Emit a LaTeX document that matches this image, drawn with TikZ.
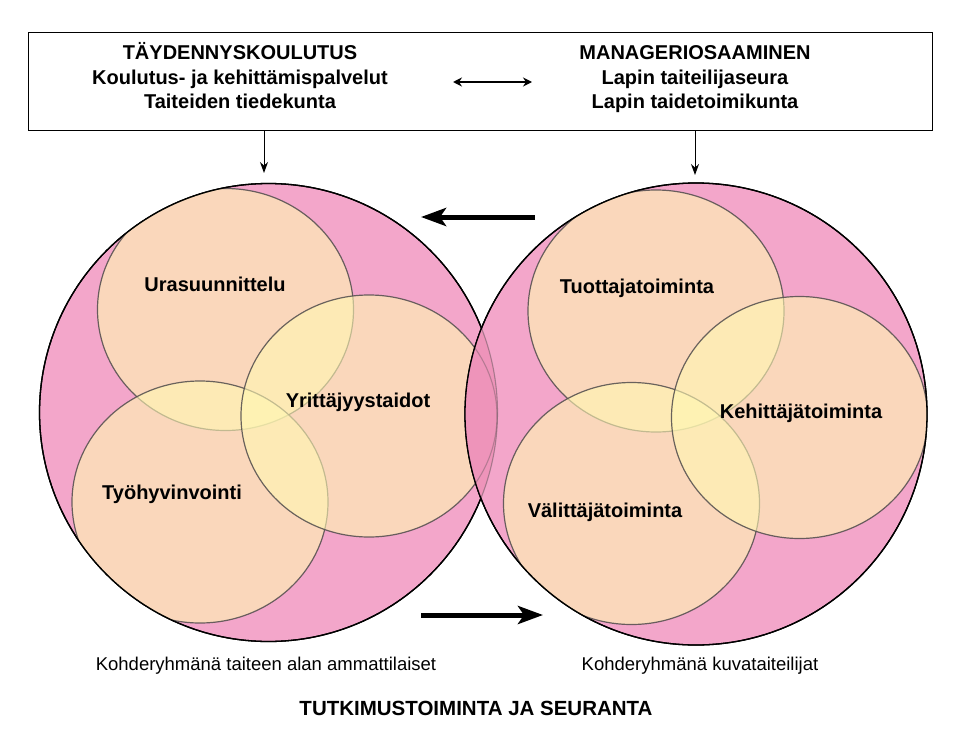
\documentclass[tikz,border=0pt]{standalone}
\usepackage{fontspec}
\setmainfont{Liberation Sans}
\usetikzlibrary{arrows.meta}
\definecolor{pinkc}{RGB}{243,166,202}
\definecolor{lensc}{RGB}{238,148,186}
\definecolor{yelc}{RGB}{255,248,178}
\definecolor{edgec}{RGB}{80,76,76}
\begin{document}
\begin{tikzpicture}[x=1pt,y=-1pt,
  big/.style={fill=pinkc,draw=black,line width=1.3pt},
  bigedge/.style={draw=black,line width=1.3pt},
  innerc/.style={fill=yelc,fill opacity=0.6,draw=edgec,draw opacity=0.85,line width=1.2pt},
  lab/.style={font=\bfseries\fontsize{20}{24}\selectfont,anchor=base,inner sep=0pt},
  boxtxt/.style={font=\bfseries\fontsize{20}{24}\selectfont,anchor=base,inner sep=0pt},
  foot/.style={font=\fontsize{18.5}{22}\selectfont,anchor=base,inner sep=0pt},
  titletxt/.style={font=\bfseries\fontsize{20.5}{24}\selectfont,anchor=base,inner sep=0pt},
  thinarr/.style={-{Stealth[length=11pt,width=8pt]},line width=1pt},
  dblarr/.style={{Stealth[length=9pt,width=9pt]}-{Stealth[length=9pt,width=9pt]},line width=1.6pt},
  thickarr/.style={-{Stealth[length=25pt,width=18pt,inset=6pt]},line width=5pt}
]
\useasboundingbox (0,0) rectangle (953,744);
\fill[white] (0,0) rectangle (953,744);

% top box
\node[draw,line width=1.4pt,minimum width=904pt,minimum height=98pt,inner sep=0pt,anchor=north west] (box) at (28,32) {};
\node[boxtxt] (l1) at (240,59.5) {TÄYDENNYSKOULUTUS};
\node[boxtxt] (l2) at (240,84.5) {Koulutus- ja kehittämispalvelut};
\node[boxtxt] (l3) at (240,108.5) {Taiteiden tiedekunta};
\node[boxtxt] (r1) at (695,59.5) {MANAGERIOSAAMINEN};
\node[boxtxt] (r2) at (695,84.5) {Lapin taiteilijaseura};
\node[boxtxt] (r3) at (695,108.5) {Lapin taidetoimikunta};
\coordinate (da1) at (453,82);
\coordinate (da2) at (532,82);
\draw[dblarr] (da1) -- (da2);

% down arrows
\coordinate (lt) at (264,173);
\coordinate (rt) at (695,175);
\draw[thinarr] (box.south -| lt) -- (lt);
\draw[thinarr] (box.south -| rt) -- (rt);

% left group
\draw[big] (268.5,412.5) circle[radius=229];
\begin{scope}
  \clip (268.5,412.5) circle[radius=229];
  \draw[innerc] (225.5,309.5) ellipse[x radius=128,y radius=121];
  \draw[innerc] (200,502) ellipse[x radius=128,y radius=121];
  \draw[innerc] (369,416) ellipse[x radius=128,y radius=121];
\end{scope}
\draw[bigedge] (268.5,412.5) circle[radius=229];

% right group
\draw[big] (696,414) circle[radius=231];
\begin{scope}
  \clip (696,414) circle[radius=231];
  \fill[lensc] (268.5,412.5) circle[radius=229];
  \draw[edgec,draw opacity=0.45,line width=1.1pt] (268.5,412.5) circle[radius=229];
  \draw[edgec,draw opacity=0.35,line width=1.1pt] (369,416) ellipse[x radius=128,y radius=121];
  \draw[innerc] (656,311) ellipse[x radius=128,y radius=121];
  \draw[innerc] (631.5,503.5) ellipse[x radius=128,y radius=121];
  \draw[innerc] (799.5,417.5) ellipse[x radius=128,y radius=121];
\end{scope}
\draw[bigedge] (696,414) circle[radius=231];

% labels
\node[lab] (ura) at (215,291) {Urasuunnittelu};
\node[lab] (yri) at (358,407) {Yrittäjyystaidot};
\node[lab] (tyo) at (172,499) {Työhyvinvointi};
\node[lab] (tuo) at (637,293) {Tuottajatoiminta};
\node[lab] (keh) at (801,418) {Kehittäjätoiminta};
\node[lab] (val) at (605,517) {Välittäjätoiminta};

% thick arrows
\coordinate (ta1) at (535,217);
\coordinate (ta2) at (421,217);
\draw[thickarr] (ta1) -- (ta2);
\coordinate (tb1) at (421,615);
\coordinate (tb2) at (543,615);
\draw[thickarr] (tb1) -- (tb2);

% bottom texts
\node[foot] (f1) at (266,670) {Kohderyhmänä taiteen alan ammattilaiset};
\node[foot] (f2) at (700,670) {Kohderyhmänä kuvataiteilijat};
\node[titletxt] (tt) at (476,715) {TUTKIMUSTOIMINTA JA SEURANTA};
\end{tikzpicture}
\end{document}
